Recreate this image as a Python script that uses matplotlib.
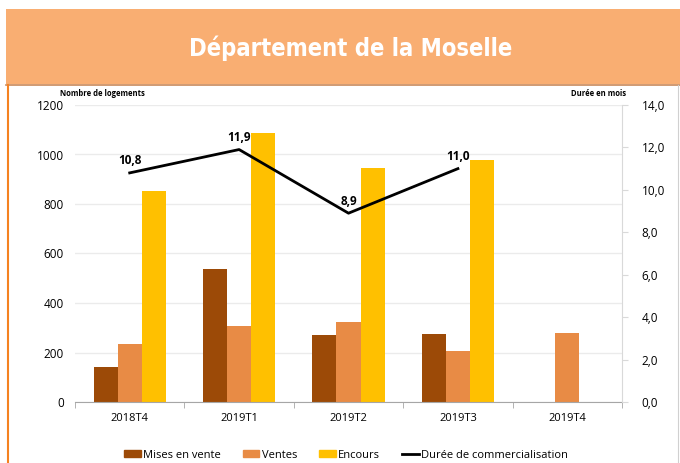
import matplotlib
matplotlib.use("Agg")
import matplotlib.pyplot as plt
from matplotlib.patches import Rectangle
from matplotlib.lines import Line2D
from matplotlib import font_manager
from matplotlib.font_manager import FontProperties
import numpy as np

categories = ["2018T4", "2019T1", "2019T2", "2019T3", "2019T4"]
mises_en_vente = [140, 536, 270, 275, np.nan]
ventes = [233, 309, 325, 206, 278]
encours = [854, 1085, 947, 979, np.nan]
duree = [10.8, 11.9, 8.9, 11.0, np.nan]
duree_labels = ["10,8", "11,9", "8,9", "11,0"]
left_ticks = [0, 200, 400, 600, 800, 1000, 1200]
right_ticks = [0, 2, 4, 6, 8, 10, 12, 14]

c_mises = "#9C4A07"
c_ventes = "#E88B45"
c_encours = "#FFC000"

W, H = 680, 463
fig = plt.figure(figsize=(W / 100, H / 100), dpi=100)
plt.rcParams['font.family'] = ['Open Sans', 'DejaVu Sans']

# find a condensed bold font for the title if available
title_fp = None
for f in font_manager.fontManager.ttflist:
    fn = f.fname.lower()
    if "sansnarrow-bold." in fn or "sanscondensed-bold." in fn:
        title_fp = FontProperties(fname=f.fname, size=17)
        break
if title_fp is None:
    import glob
    cands = glob.glob("/usr/share/fonts/**/*SansCondensed-Bold.ttf", recursive=True) + \
            glob.glob("/usr/share/fonts/**/*SansNarrow-Bold.ttf", recursive=True)
    if cands:
        title_fp = FontProperties(fname=cands[0], size=17)
if title_fp is None:
    title_fp = FontProperties(family="DejaVu Sans", weight="bold", size=15)

# title band
band = Rectangle((6 / W, 1 - 84 / H), 1 - 6 / W, (84 - 9) / H, transform=fig.transFigure,
                 facecolor="#F9AE72", edgecolor="none", zorder=0)
fig.patches.append(band)
fig.add_artist(Line2D([6 / W, 1], [1 - 84.5 / H, 1 - 84.5 / H], transform=fig.transFigure,
                      color="#C8895A", lw=1.2))
fig.add_artist(Line2D([7.5 / W, 7.5 / W], [0, 1 - 85 / H], transform=fig.transFigure,
                      color="#F58220", lw=1.5))
fig.add_artist(Line2D([677.5 / W, 677.5 / W], [0, 1 - 85 / H], transform=fig.transFigure,
                      color="#D0D0D0", lw=0.8))
fig.text(351 / W, 1 - 48 / H, "Département de la Moselle", color="white", ha="center", va="center",
         fontproperties=title_fp)

ax = fig.add_axes([75 / W, 1 - 402 / H, (622 - 75) / W, (402 - 105) / H])
x = np.arange(len(categories))
w = 0.22
ax.bar(x - w, mises_en_vente, w, color=c_mises, label="Mises en vente", zorder=2)
ax.bar(x, ventes, w, color=c_ventes, label="Ventes", zorder=2)
ax.bar(x + w, encours, w, color=c_encours, label="Encours", zorder=2)

ax.set_xlim(-0.5, len(categories) - 0.5)
ax.set_ylim(0, 1200)
ax.set_yticks(left_ticks)
ax.set_yticklabels([str(t) for t in left_ticks], fontsize=8.5)
ax.set_xticks(x)
ax.set_xticklabels(categories, fontsize=8)
ax.set_xticks(np.arange(-0.5, len(categories), 1), minor=True)
ax.tick_params(axis="x", which="major", length=0, pad=8)
ax.tick_params(axis="x", which="minor", length=4, color="#A6A6A6", direction="out")
ax.tick_params(axis="y", length=0, pad=8)
ax.grid(axis="y", color="#EBEBEB", lw=1, zorder=0)
for s in ["top", "left", "right"]:
    ax.spines[s].set_visible(False)
ax.spines["bottom"].set_color("#A6A6A6")

ax2 = ax.twinx()
ax2.plot(x, duree, color="black", lw=2, label="Durée de commercialisation", zorder=3)
ax2.set_ylim(0, 14)
ax2.set_yticks(right_ticks)
ax2.set_yticklabels([f"{t:.1f}".replace(".", ",") for t in right_ticks], fontsize=8.5)
ax2.tick_params(axis="y", length=4, color="#D9D9D9", pad=10)
for s in ["top", "left", "bottom"]:
    ax2.spines[s].set_visible(False)
ax2.spines["right"].set_color("#D9D9D9")
for xi, yi, lab in zip(x, duree, duree_labels):
    ax2.annotate(lab, (xi, yi), xytext=(0, 4), textcoords="offset points", ha="center", va="bottom",
                 fontsize=8.5, fontweight="bold")

fig.text(60 / W, 1 - 93 / H, "Nombre de logements", fontsize=5.5, fontweight="bold", va="center")
fig.text(626 / W, 1 - 93 / H, "Durée en mois", fontsize=5.5, fontweight="bold", va="center", ha="right")

handles = [Rectangle((0, 0), 1, 1, color=c_mises), Rectangle((0, 0), 1, 1, color=c_ventes),
           Rectangle((0, 0), 1, 1, color=c_encours), Line2D([], [], color="black", lw=2)]
labels = ["Mises en vente", "Ventes", "Encours", "Durée de commercialisation"]
fig.legend(handles, labels, loc="center", bbox_to_anchor=(346 / W, 1 - 455 / H), ncol=4,
           frameon=False, fontsize=8, handlelength=1.5, handleheight=0.6, handletextpad=0.2,
           columnspacing=2.0)

fig.savefig("out.png", dpi=100)
